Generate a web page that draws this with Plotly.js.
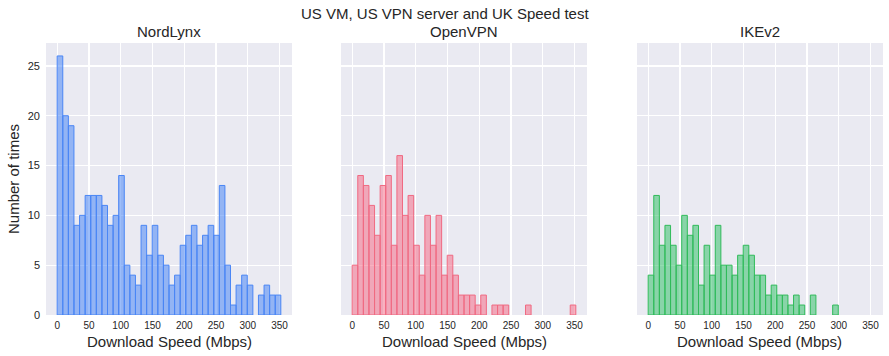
<!DOCTYPE html>
<html>
<head>
<meta charset="utf-8">
<script src="https://cdn.plot.ly/plotly-3.0.1.min.js"></script>
<style>html,body{margin:0;padding:0;background:#fff;}#chart{width:889px;height:356px;}</style>
</head>
<body>
<div id="chart"></div>
<script>
// Histogram counts per bin (bin width ~8.8 Mbps, starting at 0)
const binStart = 0;
const binWidth = 8.8;
const nordlynxCounts = [26,20,19,9,10,12,12,12,11,9,10,14,5,4,3,9,6,9,6,5,3,4,7,8,9,7,8,9,8,13,5,1,3,4,3,0,2,3,2,2];
const openvpnCounts  = [5,14,13,11,8,13,14,7,16,10,12,7,4,10,7,10,4,6,4,2,2,2,1,2,0,1,1,1,0,0,0,1,0,0,0,0,0,0,0,1];
const ikev2Counts    = [4,12,7,9,7,5,10,8,9,3,7,4,9,5,5,4,6,7,6,4,4,2,3,2,2,1,2,1,0,2,0,0,0,1];
const panelTitles = ["NordLynx", "OpenVPN", "IKEv2"];
const xTicks = [0,50,100,150,200,250,300,350];
const yTicks = [0,5,10,15,20,25];

function centers(counts){ return counts.map((_, i) => binStart + binWidth * (i + 0.5)); }

const series = [
  {counts: nordlynxCounts, fill: 'rgba(60,125,245,0.5)', edge: '#4a86f5', xa: 'x', ya: 'y'},
  {counts: openvpnCounts,  fill: 'rgba(245,100,128,0.5)', edge: '#f06a82', xa: 'x2', ya: 'y2'},
  {counts: ikev2Counts,    fill: 'rgba(40,190,95,0.5)',  edge: '#30bb5a', xa: 'x3', ya: 'y3'}
];

const traces = series.map(s => ({
  type: 'bar',
  x: centers(s.counts),
  y: s.counts.map(v => v === 0 ? null : v),
  width: binWidth,
  xaxis: s.xa, yaxis: s.ya,
  marker: {color: s.fill, line: {color: s.edge, width: 1}},
  hoverinfo: 'x+y',
  showlegend: false
}));

const font = 'Liberation Sans, Arial, sans-serif';
const txt = '#262626';
const domX = [[46/889, 292/889], [341/889, 587/889], [637/889, 883/889]];
const domY = [1 - 315/356, 1 - 43/356];

function xax(i){
  return {
    domain: domX[i], range: [-17.6, 369.6], anchor: i === 0 ? 'y' : 'y' + (i+1),
    tickvals: xTicks, ticktext: xTicks.map(String),
    showgrid: true, gridcolor: '#ffffff', gridwidth: 1.3,
    zeroline: false, showline: false, ticks: '',
    tickfont: {family: font, size: 10, color: txt},
    ticklabelstandoff: 3
  };
}
function yax(i){
  return {
    domain: domY, range: [0, 27.3], anchor: i === 0 ? 'x' : 'x' + (i+1),
    tickvals: yTicks, ticktext: yTicks.map(String),
    showticklabels: i === 0,
    showgrid: true, gridcolor: '#ffffff', gridwidth: 1.3,
    zeroline: false, showline: false, ticks: '',
    tickfont: {family: font, size: 11, color: txt},
    ticklabelstandoff: 5
  };
}

const annotations = [
  {text: 'US VM, US VPN server and UK Speed test', x: 0.5, y: 1 - 13/356, xref: 'paper', yref: 'paper',
   showarrow: false, xanchor: 'center', yanchor: 'middle', font: {family: font, size: 15, color: txt}}
];
panelTitles.forEach((t, i) => {
  annotations.push({text: t, x: (domX[i][0] + domX[i][1]) / 2, y: 1 - 31/356, xref: 'paper', yref: 'paper',
    showarrow: false, xanchor: 'center', yanchor: 'middle', font: {family: font, size: 15, color: txt}});
  annotations.push({text: 'Download Speed (Mbps)', x: (domX[i][0] + domX[i][1]) / 2, y: 1 - 341/356, xref: 'paper', yref: 'paper',
    showarrow: false, xanchor: 'center', yanchor: 'middle', font: {family: font, size: 15, color: txt}});
});
annotations.push({text: 'Number of times', x: 13/889, y: (domY[0] + domY[1]) / 2, xref: 'paper', yref: 'paper',
  showarrow: false, textangle: -90, xanchor: 'center', yanchor: 'middle', font: {family: font, size: 15, color: txt}});

const layout = {
  width: 889, height: 356,
  margin: {l: 0, r: 0, t: 0, b: 0},
  paper_bgcolor: '#ffffff', plot_bgcolor: '#EAEAF2',
  bargap: 0,
  xaxis: xax(0), xaxis2: xax(1), xaxis3: xax(2),
  yaxis: yax(0), yaxis2: yax(1), yaxis3: yax(2),
  annotations: annotations,
  font: {family: font, color: txt}
};

Plotly.newPlot('chart', traces, layout, {displayModeBar: false, staticPlot: true});
</script>
</body>
</html>
